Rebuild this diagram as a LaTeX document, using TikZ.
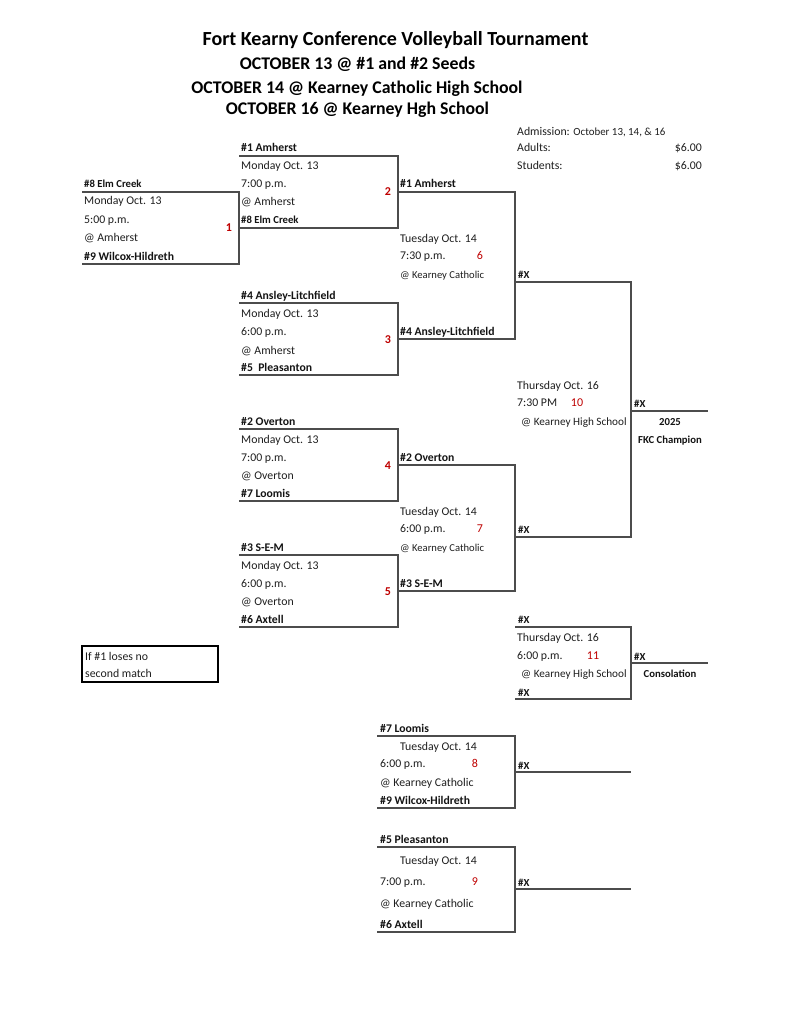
\documentclass[tikz,border=0pt]{standalone}
\usepackage{fontspec}
\setmainfont{Carlito}
\begin{document}
\begin{tikzpicture}[x=1pt,y=-1pt,
  txt/.style={anchor=base west,inner sep=0pt,text=black!88,font=\fontsize{11.8}{13}\selectfont},
  txs/.style={anchor=base west,inner sep=0pt,text=black!88,font=\fontsize{10.6}{12}\selectfont},
  txk/.style={anchor=base west,inner sep=0pt,text=black!88,font=\fontsize{11.2}{13}\selectfont},
  tb/.style={anchor=base west,inner sep=0pt,text=black!92,font=\fontsize{11.7}{13}\selectfont\bfseries},
  tbs/.style={anchor=base west,inner sep=0pt,text=black!92,font=\fontsize{10.7}{12}\selectfont\bfseries},
  rnb/.style={anchor=base,inner sep=0pt,text=red!75!black,font=\fontsize{12}{13}\selectfont\bfseries},
  rn/.style={anchor=base,inner sep=0pt,text=red!75!black,font=\fontsize{12}{13}\selectfont},
  ttl/.style={anchor=base,inner sep=0pt,text=black,font=\fontsize{20}{22}\selectfont\bfseries},
  ttl2/.style={anchor=base,inner sep=0pt,text=black,font=\fontsize{17.8}{20}\selectfont\bfseries},
  br/.style={draw=black!70,line width=1.5pt},
  ]
\useasboundingbox[fill=white] (0,0) rectangle (791,1024);

% titles
\node[ttl] (t1) at (395.5,46) {Fort Kearny Conference Volleyball Tournament};
\node[ttl2] (t2) at (357.5,70) {OCTOBER 13 @ \#1 and \#2 Seeds};
\node[ttl2] (t3) at (357,94) {OCTOBER 14 @ Kearney Catholic High School};
\node[ttl2] (t4) at (357.5,115) {OCTOBER 16 @ Kearney Hgh School};

% admission
\node[txt] (adm) at (517,136) {Admission: {\fontsize{10.9}{12}\selectfont October 13, 14, \& 16}};
\node[txt] (adu) at (517,152) {Adults:};
\node[txt,anchor=base east] (adup) at (702,152) {\$6.00};
\node[txt] (stu) at (517,170) {Students:};
\node[txt,anchor=base east] (stup) at (702,170) {\$6.00};

% match 1
\node[tbs] (m1a) at (84,188) {\#8 Elm Creek};
\node[txt] (m1d) at (84,205) {Monday Oct. 13};
\node[txt] (m1t) at (84,223) {5:00 p.m.};
\node[txt] (m1p) at (84,241) {@ Amherst};
\node[tb] (m1b) at (84,260) {\#9 Wilcox-Hildreth};
\node[rnb] (m1n) at (229,232) {1};
\draw[br] (82,192) -- (239,192) -- (239,264) -- (82,264);

% match 2
\node[tb] (m2a) at (241,152) {\#1 Amherst};
\node[txt] (m2d) at (241,170) {Monday Oct. 13};
\node[txt] (m2t) at (241,188) {7:00 p.m.};
\node[txt] (m2p) at (241,206) {@ Amherst};
\node[tbs] (m2b) at (241,224) {\#8 Elm Creek};
\node[rnb] (m2n) at (388,196) {2};
\draw[br] (239,156) -- (398,156) -- (398,228) -- (239,228);

% match 6
\node[tb] (m6a) at (400,188) {\#1 Amherst};
\node[txt] (m6d) at (400,242) {Tuesday Oct. 14};
\node[txt] (m6t) at (400,259) {7:30 p.m.};
\node[rn] (m6n) at (480,259) {6};
\node[txs] (m6p) at (400,278) {@ Kearney Catholic};
\node[tb] (m6b) at (400,335) {\#4 Ansley-Litchfield};
\draw[br] (398,192) -- (515,192) -- (515,339) -- (398,339);
\node[tbs] (m6w) at (518,278) {\#X};

% match 3
\node[tb] (m3a) at (241,299) {\#4 Ansley-Litchfield};
\node[txt] (m3d) at (241,317) {Monday Oct. 13};
\node[txt] (m3t) at (241,335) {6:00 p.m.};
\node[txt] (m3p) at (241,354) {@ Amherst};
\node[tb] (m3b) at (241,371) {\#5\ \ Pleasanton};
\node[rnb] (m3n) at (388,343) {3};
\draw[br] (239,303) -- (398,303) -- (398,375) -- (239,375);

% match 10
\draw[br] (515,282) -- (631,282) -- (631,537) -- (515,537);
\node[txt] (m10d) at (517,389) {Thursday Oct. 16};
\node[txt] (m10t) at (517,406) {7:30 PM};
\node[rn] (m10n) at (577,406) {10};
\node[txk] (m10p) at (521,425) {@ Kearney High School};
\node[tbs] (m10w) at (634,407) {\#X};
\draw[br] (631,411) -- (708,411);
\node[tbs,anchor=base] (yr) at (670,425) {2025};
\node[tbs,anchor=base] (chp) at (670,443) {FKC Champion};

% match 4
\node[tb] (m4a) at (241,425) {\#2 Overton};
\node[txt] (m4d) at (241,443) {Monday Oct. 13};
\node[txt] (m4t) at (241,461) {7:00 p.m.};
\node[txt] (m4p) at (241,479) {@ Overton};
\node[tb] (m4b) at (241,497) {\#7 Loomis};
\node[rnb] (m4n) at (388,469) {4};
\draw[br] (239,429) -- (398,429) -- (398,501) -- (239,501);

% match 7
\node[tb] (m7a) at (400,461) {\#2 Overton};
\node[txt] (m7d) at (400,515) {Tuesday Oct. 14};
\node[txt] (m7t) at (400,532) {6:00 p.m.};
\node[rn] (m7n) at (480,532) {7};
\node[txs] (m7p) at (400,551) {@ Kearney Catholic};
\node[tb] (m7b) at (400,587) {\#3 S-E-M};
\draw[br] (398,465) -- (515,465) -- (515,591) -- (398,591);
\node[tbs] (m7w) at (518,533) {\#X};

% match 5
\node[tb] (m5a) at (241,551) {\#3 S-E-M};
\node[txt] (m5d) at (241,569) {Monday Oct. 13};
\node[txt] (m5t) at (241,587) {6:00 p.m.};
\node[txt] (m5p) at (241,605) {@ Overton};
\node[tb] (m5b) at (241,623) {\#6 Axtell};
\node[rnb] (m5n) at (388,595) {5};
\draw[br] (239,555) -- (398,555) -- (398,627) -- (239,627);

% match 11
\draw[br] (515,627) -- (631,627) -- (631,699) -- (515,699);
\node[tbs] (m11a) at (518,623) {\#X};
\node[txt] (m11d) at (517,641) {Thursday Oct. 16};
\node[txt] (m11t) at (517,659) {6:00 p.m.};
\node[rn] (m11n) at (593,659) {11};
\node[txk] (m11p) at (521,677) {@ Kearney High School};
\node[tbs] (m11b) at (518,696) {\#X};
\node[tbs] (m11w) at (634,660) {\#X};
\draw[br] (631,663) -- (708,663);
\node[tbs,anchor=base] (cons) at (670,677) {Consolation};

% note box
\draw[black,line width=2pt] (82,646) rectangle (218,682);
\node[txt] (nt1) at (85,660) {If \#1 loses no};
\node[txt] (nt2) at (85,677) {second match};

% match 8
\node[tb] (m8a) at (380,732) {\#7 Loomis};
\node[txt] (m8d) at (400,750) {Tuesday Oct. 14};
\node[txt] (m8t) at (380,767) {6:00 p.m.};
\node[rn] (m8n) at (475,767) {8};
\node[txt] (m8p) at (380,786) {@ Kearney Catholic};
\node[tb] (m8b) at (380,804) {\#9 Wilcox-Hildreth};
\draw[br] (377,736) -- (515,736) -- (515,808) -- (377,808);
\node[tbs] (m8w) at (518,769) {\#X};
\draw[br] (515,772) -- (631,772);

% match 9
\node[tb] (m9a) at (380,843) {\#5 Pleasanton};
\node[txt] (m9d) at (400,864) {Tuesday Oct. 14};
\node[txt] (m9t) at (380,885) {7:00 p.m.};
\node[rn] (m9n) at (475,885) {9};
\node[txt] (m9p) at (380,907) {@ Kearney Catholic};
\node[tb] (m9b) at (380,928) {\#6 Axtell};
\draw[br] (377,847) -- (515,847) -- (515,932) -- (377,932);
\node[tbs] (m9w) at (518,886) {\#X};
\draw[br] (515,889) -- (631,889);
\end{tikzpicture}
\end{document}
